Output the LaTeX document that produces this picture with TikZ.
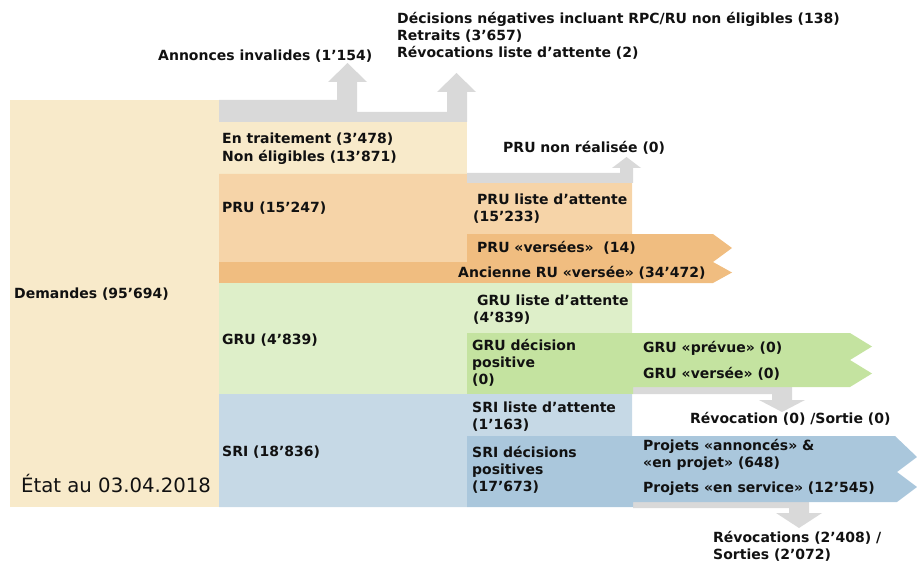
\documentclass[tikz,border=0pt]{standalone}
\usepackage{fontspec}
\setmainfont{DejaVu Sans}
\definecolor{cbeige}{HTML}{F8EACA}
\definecolor{corlight}{HTML}{F6D4A8}
\definecolor{cordark}{HTML}{F0BD80}
\definecolor{cgrlight}{HTML}{DEEFC9}
\definecolor{cgrmid}{HTML}{C4E3A0}
\definecolor{cbllight}{HTML}{C6D9E6}
\definecolor{cblmid}{HTML}{AAC7DC}
\definecolor{cgray}{HTML}{D9D9D9}
\definecolor{ctext}{HTML}{111111}
\begin{document}
\begin{tikzpicture}[x=1pt,y=-1pt,
  lab/.style={anchor=base west, inner sep=0pt, text=ctext, font=\bfseries\fontsize{14}{17}\selectfont}]
\useasboundingbox (0,0) rectangle (917,561);
% beige
\fill[cbeige] (10,100) rectangle (219,507);
\fill[cbeige] (219,122) rectangle (467,174);
% gray top arrows
\fill[cgray] (219,100) -- (337,100) -- (337,82) -- (328,82) -- (347.5,63) -- (367,82) -- (357,82) -- (357,112)
  -- (447,112) -- (447,92) -- (437,92) -- (456.5,73) -- (476,92) -- (467,92) -- (467,122) -- (219,122) -- cycle;
% orange
\fill[corlight] (219,174) -- (467,174) -- (467,183) -- (632,183) -- (632,234) -- (467,234) -- (467,262) -- (219,262) -- cycle;
\fill[cgray] (467,173) -- (620,173) -- (620,168) -- (612,168) -- (626.5,157) -- (641,168) -- (633,168) -- (633,183) -- (467,183) -- cycle;
\fill[cordark] (467,234) -- (713,234) -- (732,248) -- (713,262) -- (467,262) -- cycle;
\fill[cordark] (219,262) -- (713,262) -- (732,272.5) -- (713,283) -- (219,283) -- cycle;
% green
\fill[cgrlight] (219,283) -- (632,283) -- (632,333) -- (467,333) -- (467,394) -- (219,394) -- cycle;
\fill[cgray] (633,386) -- (792,386) -- (792,400) -- (805,400) -- (782,412) -- (759,400) -- (772,400) -- (772,394) -- (633,394) -- cycle;
\fill[cgrmid] (467,333) -- (850,333) -- (872,346.5) -- (850,360) -- (872,373.5) -- (850,387) -- (633,387) -- (633,394) -- (467,394) -- cycle;
% blue
\fill[cbllight] (219,394) -- (632,394) -- (632,436) -- (467,436) -- (467,507) -- (219,507) -- cycle;
\fill[cgray] (633,501) -- (809,501) -- (809,513) -- (822,513) -- (799,528) -- (776,513) -- (789,513) -- (789,508) -- (633,508) -- cycle;
\fill[cblmid] (467,436) -- (895,436) -- (917,457) -- (897,472) -- (917,487) -- (897,502) -- (633,502) -- (633,507) -- (467,507) -- cycle;
% texts
\node[lab] (ann) at (158,61) {Annonces invalides (1’154)};
\node[lab] (dec1) at (397,24) {Décisions négatives incluant RPC/RU non éligibles (138)};
\node[lab] (dec2) at (397,41) {Retraits (3’657)};
\node[lab] (dec3) at (397,58) {Révocations liste d’attente (2)};
\node[lab] (trt) at (222,144) {En traitement (3’478)};
\node[lab] (nel) at (222,162) {Non éligibles (13’871)};
\node[lab] (prunr) at (503,153) {PRU non réalisée (0)};
\node[lab] (pru) at (222,213) {PRU (15’247)};
\node[lab] (prul1) at (477,205) {PRU liste d’attente};
\node[lab] (prul2) at (473,222) {(15’233)};
\node[lab] (pruv) at (477,252) {PRU «versées»\ \ (14)};
\node[lab] (anc) at (458,277) {Ancienne RU «versée» (34’472)};
\node[lab] (dem) at (14,298) {Demandes (95’694)};
\node[lab] (grul1) at (477,305) {GRU liste d’attente};
\node[lab] (grul2) at (473,322) {(4’839)};
\node[lab] (gru) at (222,344) {GRU (4’839)};
\node[lab] (grud1) at (472,350) {GRU décision};
\node[lab] (grud2) at (472,367) {positive};
\node[lab] (grud3) at (472,384) {(0)};
\node[lab] (grup) at (643,352) {GRU «prévue» (0)};
\node[lab] (gruv) at (643,378) {GRU «versée» (0)};
\node[lab] (sril1) at (472,412) {SRI liste d’attente};
\node[lab] (sril2) at (472,429) {(1’163)};
\node[lab] (revg) at (690,423) {Révocation (0) /Sortie (0)};
\node[lab] (sri) at (222,456) {SRI (18’836)};
\node[lab] (srid1) at (472,457) {SRI décisions};
\node[lab] (srid2) at (472,474) {positives};
\node[lab] (srid3) at (472,491) {(17’673)};
\node[lab] (pa1) at (643,450) {Projets «annoncés» \&};
\node[lab] (pa2) at (643,467) {«en projet» (648)};
\node[lab] (ps) at (643,492) {Projets «en service» (12’545)};
\node[lab] (rev1) at (713,542) {Révocations (2’408) /};
\node[lab] (rev2) at (713,559) {Sorties (2’072)};
\node[anchor=base west, inner sep=0pt, text=ctext, font=\fontsize{19.7}{22}\selectfont] (etat) at (21,492) {État au 03.04.2018};
\end{tikzpicture}
\end{document}
